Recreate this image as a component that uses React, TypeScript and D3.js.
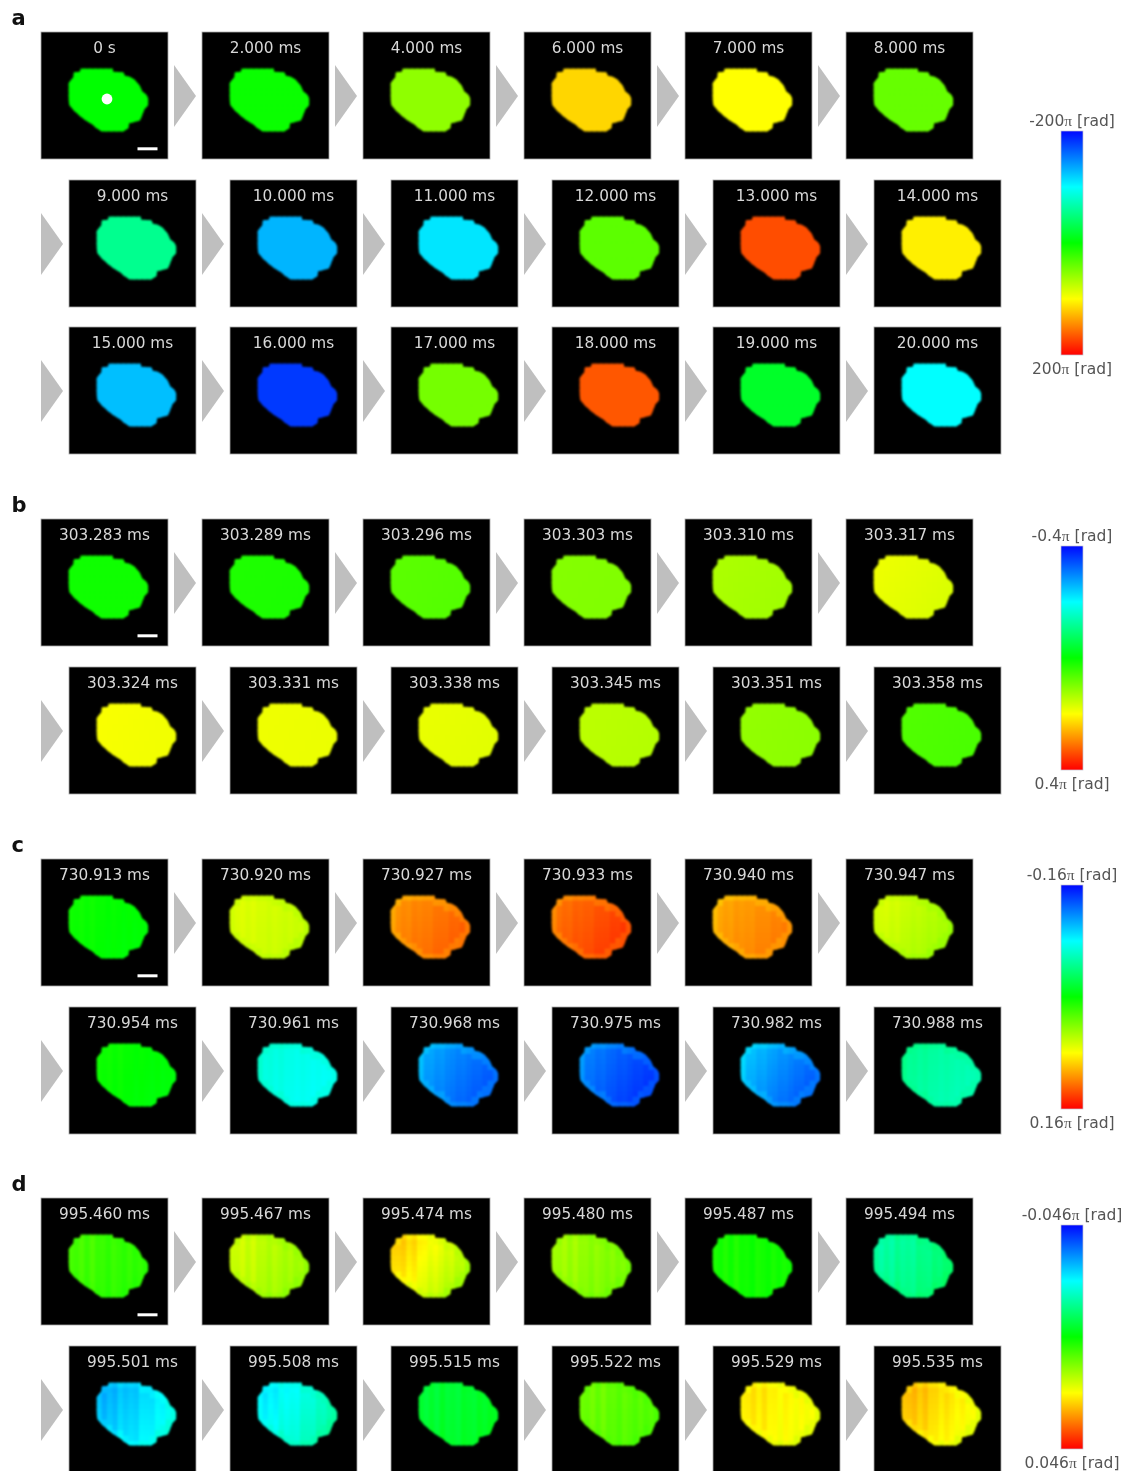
import React from "react";
import * as d3 from "d3";

// ---------- data ----------
const labelsA = ["0 s","2.000 ms","4.000 ms","6.000 ms","7.000 ms","8.000 ms","9.000 ms","10.000 ms","11.000 ms","12.000 ms","13.000 ms","14.000 ms","15.000 ms","16.000 ms","17.000 ms","18.000 ms","19.000 ms","20.000 ms"];
const leftA = [0,0.02,0.28,0.58,0.5,0.2,-0.28,-0.65,-0.55,0.18,0.85,0.53,-0.63,-0.9,0.23,0.83,-0.08,-0.5];
const rightA = [0,0.02,0.28,0.58,0.5,0.2,-0.28,-0.65,-0.55,0.18,0.85,0.53,-0.63,-0.9,0.23,0.83,-0.08,-0.5];

const labelsB = ["303.283 ms","303.289 ms","303.296 ms","303.303 ms","303.310 ms","303.317 ms","303.324 ms","303.331 ms","303.338 ms","303.345 ms","303.351 ms","303.358 ms"];
const leftB = [0.03,0.06,0.18,0.26,0.34,0.47,0.49,0.47,0.46,0.37,0.29,0.16];
const rightB = [0.03,0.05,0.16,0.25,0.31,0.42,0.47,0.46,0.44,0.35,0.27,0.14];

const labelsC = ["730.913 ms","730.920 ms","730.927 ms","730.933 ms","730.940 ms","730.947 ms","730.954 ms","730.961 ms","730.968 ms","730.975 ms","730.982 ms","730.988 ms"];
const leftC = [0.03,0.44,0.7,0.76,0.66,0.44,0.03,-0.43,-0.66,-0.74,-0.6,-0.28];
const rightC = [-0.02,0.38,0.84,0.92,0.78,0.3,-0.03,-0.5,-0.88,-0.95,-0.88,-0.38];

const labelsD = ["995.460 ms","995.467 ms","995.474 ms","995.480 ms","995.487 ms","995.494 ms","995.501 ms","995.508 ms","995.515 ms","995.522 ms","995.529 ms","995.535 ms"];
const leftD = [0.14,0.42,0.64,0.33,0.04,-0.35,-0.7,-0.58,-0.12,0.22,0.56,0.66];
const rightD = [0.07,0.28,0.28,0.22,0.03,-0.2,-0.44,-0.3,-0.06,0.14,0.46,0.44];

const barLabelsA = ["-200", "200"];
const barLabelsB = ["-0.4", "0.4"];
const barLabelsC = ["-0.16", "0.16"];
const barLabelsD = ["-0.046", "0.046"];

// first and last pixel of the cell's outline, row by row
const rowStart = [2,1,0,0,0,0,0,1,2,3,5,6];
const rowEnd = [8,10,12,13,14,15,15,14,13,13,11,10];
const outlineX = [62,158,160,190,195,210,225,240,247,258,265,265,252,247,240,208,205,190,125,110,95,75,58,40,28,25,25,40,42,60];
const outlineY = [25,25,35,37,47,50,60,78,95,103,115,135,150,165,182,190,205,215,215,205,192,180,167,150,135,115,70,52,37,35];
// vertical stripes seen in panel d
const stripes = [0.02,-0.01,0.03,-0.02,0.04,-0.01,0.0,-0.03,0.02,0.0,-0.02,0.02,-0.01,0.02,0.0,0.0];

const phaseStops = [-1,-0.5,0,0.5,1];
const phaseColors = ["#0008ff","#00ffff","#00ff00","#ffff00","#ff0000"];

// ---------- layout ----------
const W = 1136, H = 1471, S = 127;
const rowTops = { a:[32,180,327], b:[519,667], c:[859,1007], d:[1198,1346] };
const color = d3.scaleLinear<string>().domain(phaseStops).range(phaseColors).interpolate(d3.interpolateRgb).clamp(true);
const cols = d3.scaleBand<number>().domain(d3.range(16)).range([0,85.3]);
const rows = d3.scaleBand<number>().domain(d3.range(12)).range([0,64]);
const ox = d3.scaleLinear().domain([25,265]).range([0,80]);
const oy = d3.scaleLinear().domain([25,215]).range([0,63.3]);
const outlinePath = d3.line<number>().x(i=>ox(outlineX[i])).y(i=>oy(outlineY[i])).curve(d3.curveLinearClosed)(d3.range(outlineX.length)) as string;

const maskHas = (r:number,c:number) => r>=0 && r<12 && c>=rowStart[r] && c<rowEnd[r];

function Blob({left,right,rim,ripple}:{left:number;right:number;rim:number;ripple:number}) {
  const cells:React.ReactElement[] = [];
  d3.range(12).forEach(r=>{
    d3.range(16).forEach(c=>{
      const t = 0.7*c/14 + 0.3*r/11;
      let v = left + (right-left)*t;
      const edge = !(maskHas(r-1,c)&&maskHas(r+1,c)&&maskHas(r,c-1)&&maskHas(r,c+1));
      if (edge) v *= rim;
      v += ripple*stripes[c];
      cells.push(<rect key={r+"-"+c} x={cols(c)} y={rows(r)} width={cols.bandwidth()+1} height={rows.bandwidth()+1} fill={color(v)} />);
    });
  });
  return <g transform="translate(27.3,36.3)" filter="url(#soft)"><g clipPath="url(#outline)">{cells}</g></g>;
}

function Panel({x,y,label,left,right,rim,ripple,arrow,scaleBar,dot}:any) {
  return <g transform={`translate(${x},${y})`}>
    {arrow && <polygon points={`${-28},33 ${-6},64 ${-28},95`} fill="#bfbfbf" />}
    <rect x={0} y={0} width={S} height={S} fill="#000" stroke="#a8a8a8" strokeWidth={0.8} />
    <text x={S/2} y={20.7} textAnchor="middle" fontFamily="'DejaVu Sans'" fontSize={15.3} fill="#d8d8d8">{label}</text>
    <Blob left={left} right={right} rim={rim} ripple={ripple} />
    {dot && <circle cx={66} cy={67} r={5.4} fill="#fff" />}
    {scaleBar && <rect x={96.5} y={115.3} width={20} height={3} fill="#fff" />}
  </g>;
}

function Group({letter,letterY,tops,labels,lefts,rights,rim,ripple,barTop,barLabels,dot}:any) {
  let idx = 0;
  const nodes:React.ReactElement[] = [];
  tops.forEach((top:number,ri:number)=>{
    const x0 = ri===0 ? 41 : 69;
    d3.range(6).forEach(i=>{
      const k = idx++;
      nodes.push(<Panel key={k} x={x0+i*161} y={top} label={labels[k]} left={lefts[k]} right={rights[k]}
        rim={rim} ripple={ripple} arrow={!(ri===0&&i===0)} scaleBar={ri===0&&i===0} dot={dot&&ri===0&&i===0} />);
    });
  });
  const barY = d3.scaleLinear().domain([-1,1]).range([barTop,barTop+224]);
  return <g>
    <text x={11.5} y={letterY} fontFamily="'DejaVu Sans'" fontWeight="bold" fontSize={21} fill="#111">{letter}</text>
    {nodes}
    <rect x={1061} y={barY(-1)} width={22} height={barY(1)-barY(-1)} fill="url(#bar)" stroke="#c4c4d0" strokeWidth={0.7} />
    {barLabels.map((b:string,i:number)=>(
      <text key={b} x={1072} y={i===0?barTop-5.4:barTop+242.6} textAnchor="middle" fontFamily="'DejaVu Sans'" fontSize={15.5} fill="#555">
        {b}<tspan fontFamily="'Liberation Serif'">π</tspan> [rad]
      </text>
    ))}
  </g>;
}

export default function App() {
  return <svg width={W} height={H} viewBox={`0 0 ${W} ${H}`} style={{position:"absolute",left:0,top:0,display:"block",background:"#fff"}}>
    <defs>
      <filter id="soft" x="-10%" y="-10%" width="120%" height="120%" colorInterpolationFilters="sRGB">
        <feGaussianBlur stdDeviation={0.9} />
      </filter>
      <filter id="page" x="0" y="0" width="100%" height="100%" colorInterpolationFilters="sRGB">
        <feGaussianBlur stdDeviation={0.35} />
      </filter>
      <clipPath id="outline"><path d={outlinePath} /></clipPath>
      <linearGradient id="bar" x1="0" y1="0" x2="0" y2="1">
        {phaseStops.map((p,i)=><stop key={p} offset={(p+1)/2} stopColor={phaseColors[i]} />)}
      </linearGradient>
    </defs>
    <g filter="url(#page)">
      <Group letter="a" letterY={25} tops={rowTops.a} labels={labelsA} lefts={leftA} rights={rightA} rim={1} ripple={0} barTop={131} barLabels={barLabelsA} dot />
      <Group letter="b" letterY={512} tops={rowTops.b} labels={labelsB} lefts={leftB} rights={rightB} rim={1} ripple={0} barTop={546} barLabels={barLabelsB} />
      <Group letter="c" letterY={852} tops={rowTops.c} labels={labelsC} lefts={leftC} rights={rightC} rim={0.93} ripple={0.3} barTop={885} barLabels={barLabelsC} />
      <Group letter="d" letterY={1191} tops={rowTops.d} labels={labelsD} lefts={leftD} rights={rightD} rim={0.93} ripple={0.8} barTop={1225} barLabels={barLabelsD} />
    </g>
  </svg>;
}
